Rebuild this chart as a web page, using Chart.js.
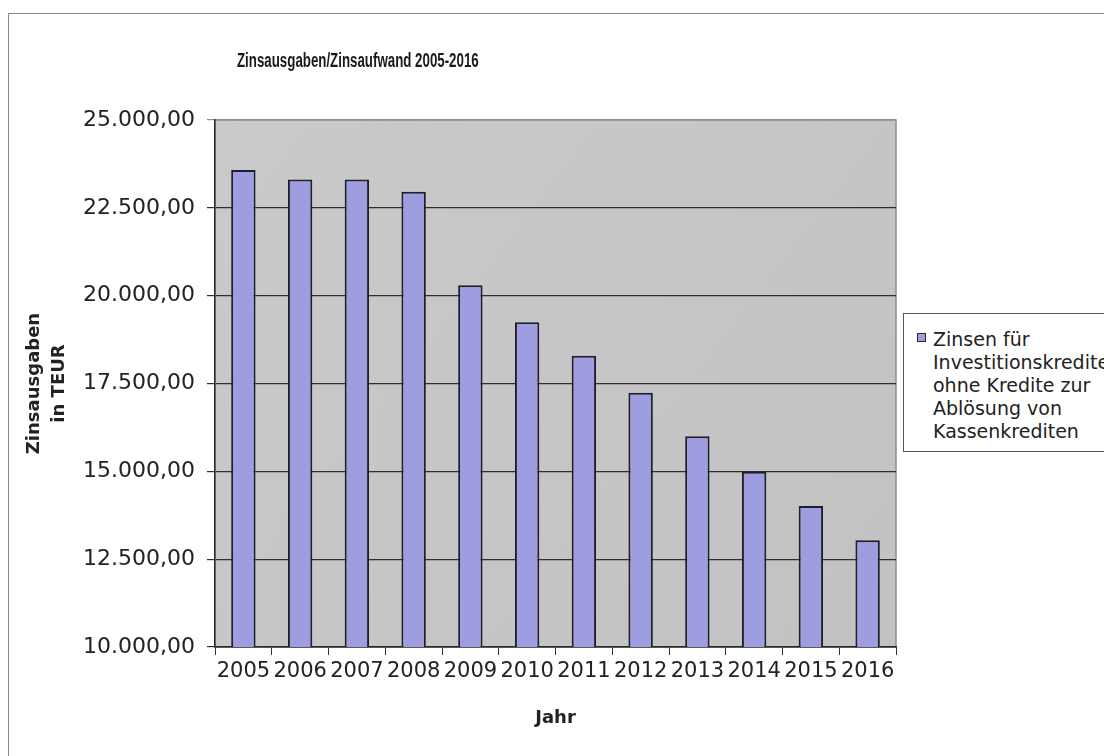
<!DOCTYPE html>
<html>
<head>
<meta charset="utf-8">
<script src="https://cdn.jsdelivr.net/npm/chart.js@4"></script>
<style>
  body { margin: 0; background: #fff; width: 1104px; height: 756px; overflow: hidden; position: relative; font-family: 'DejaVu Sans', sans-serif; }
  #frame { position: absolute; left: 8px; top: 13px; width: 1110px; height: 760px; border: 1px solid #8a8a8a; border-right: none; border-bottom: none; box-sizing: border-box; }
  #wrap { position: absolute; left: 0; top: 0; width: 1104px; height: 756px; }
  #title { position: absolute; left: 237px; top: 49px; font: bold 20px 'Liberation Sans', Arial, sans-serif; color: #1a1a1a; transform: scaleX(0.665); transform-origin: left center; white-space: nowrap; }
  #legend { position: absolute; left: 903px; top: 313px; width: 230px; height: 139px; border: 1.5px solid #555; background: #fff; box-sizing: border-box; }
  #legend .mark { position: absolute; left: 13px; top: 19px; width: 7px; height: 7px; background: #9d9de0; border: 1.5px solid #2a2a3a; }
  #legend .txt { position: absolute; left: 29px; top: 14px; font: 19px 'DejaVu Sans', sans-serif; line-height: 23px; color: #222; white-space: nowrap; }
</style>
</head>
<body>
<div id="frame"></div>
<div id="wrap"><canvas id="chart"></canvas></div>
<div id="title">Zinsausgaben/Zinsaufwand 2005-2016</div>
<div id="legend">
  <div class="mark"></div>
  <div class="txt">Zinsen für<br>Investitionskredite<br>ohne Kredite zur<br>Ablösung von<br>Kassenkrediten</div>
</div>
<script>
const years = ['2005', '2006', '2007', '2008', '2009', '2010', '2011', '2012', '2013', '2014', '2015', '2016']
const zinsen = [23580, 23310, 23310, 22960, 20300, 19240, 18290, 17240, 16000, 14990, 14010, 13040]
const yTicks = [10000, 12500, 15000, 17500, 20000, 22500, 25000]

// 25000 -> "25.000,00"
function formatDe(v) {
  const s = Math.round(v).toString().replace(/\B(?=(\d{3})+(?!\d))/g, '.')
  return s + ',00'
}

const plotBg = {
  id: 'plotBg',
  beforeDraw(chart) {
    const { ctx, chartArea: a } = chart
    ctx.save()
    const g = ctx.createLinearGradient(a.left, a.top, a.right, a.bottom)
    g.addColorStop(0, '#cacaca')
    g.addColorStop(1, '#c2c2c2')
    ctx.fillStyle = g
    ctx.fillRect(a.left, a.top, a.right - a.left, a.bottom - a.top)
    ctx.strokeStyle = '#8e8e8e'
    ctx.lineWidth = 1.5
    ctx.strokeRect(a.left, a.top, a.right - a.left, a.bottom - a.top)
    ctx.restore()
  }
}

Chart.defaults.font.family = "'DejaVu Sans', sans-serif"
Chart.defaults.color = '#222'

new Chart(document.getElementById('chart'), {
  type: 'bar',
  data: {
    labels: years,
    datasets: [{
      label: 'Zinsen für Investitionskredite ohne Kredite zur Ablösung von Kassenkrediten',
      data: zinsen,
      backgroundColor: '#9d9de0',
      borderColor: '#1e1e2c',
      borderWidth: 2,
      barPercentage: 0.43,
      categoryPercentage: 1
    }]
  },
  options: {
    responsive: true,
    maintainAspectRatio: false,
    animation: false,
    layout: { padding: { left: 10, top: 120, right: 208, bottom: 10 } },
    plugins: { legend: { display: false }, tooltip: { enabled: false } },
    scales: {
      x: {
        afterFit(scale) { scale.height = 99 },
        grid: { drawOnChartArea: false, drawTicks: true, tickLength: 8, color: '#333', offset: true },
        border: { color: '#2a2a2a', width: 1.5 },
        ticks: { autoSkip: false, maxRotation: 0, minRotation: 0, padding: 4, font: { size: 21 }, color: '#222' },
        title: { display: true, text: 'Jahr', font: { size: 18, weight: 'bold', lineHeight: 1.2 }, padding: { top: 0, bottom: 17 }, color: '#222' }
      },
      y: {
        min: yTicks[0],
        max: yTicks[yTicks.length - 1],
        afterFit(scale) { scale.width = 205 },
        afterBuildTicks(scale) { scale.ticks = yTicks.map(v => ({ value: v })) },
        grid: {
          color: ctx => ctx.tick && ctx.tick.value === 25000 ? '#8e8e8e' : '#2e2e2e',
          lineWidth: 1.2,
          tickLength: 8
        },
        border: { color: '#2a2a2a', width: 1.5 },
        ticks: { callback: v => formatDe(v), padding: 12, font: { size: 22 }, color: '#222' },
        title: { display: true, text: ['Zinsausgaben', 'in TEUR'], font: { size: 18, weight: 'bold', lineHeight: 1.4 }, padding: { top: 12, bottom: 0 }, color: '#222' }
      }
    }
  },
  plugins: [plotBg]
})
</script>
</body>
</html>
